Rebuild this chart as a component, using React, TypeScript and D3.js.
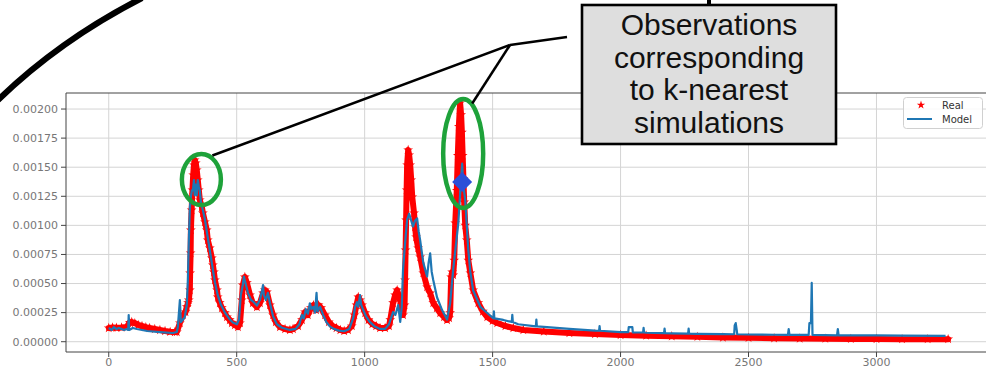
import React from 'react';
import * as d3 from 'd3';

const real: [number, number][] = [
  [0,0.000118],[15,0.000122],[30,0.000120],[50,0.000122],[70,0.000126],[82,0.000165],[90,0.000169],[102,0.000160],[115,0.000144],[130,0.000135],[145,0.000126],[160,0.000118],[180,0.000109],[200,0.000101],[220,0.000092],[240,0.000085],[258,0.000083],[266,0.000083],[278,0.000161],[290,0.000229],[300,0.000255],[305,0.000300],[310,0.000333],[313,0.000358],[317,0.000444],[318,0.000590],[320,0.000762],[321,0.000960],[324,0.001132],[327,0.001304],[330,0.001433],[333,0.001519],[336,0.001562],[340,0.001536],[344,0.001476],[348,0.001390],[352,0.001304],[356,0.001218],[364,0.001158],[368,0.001106],[376,0.001029],[383,0.000960],[387,0.000874],[395,0.000805],[403,0.000719],[407,0.000659],[411,0.000599],[415,0.000530],[423,0.000444],[426,0.000384],[434,0.000333],[442,0.000290],[454,0.000247],[462,0.000212],[473,0.000187],[481,0.000161],[493,0.000144],[505,0.000126],[513,0.000161],[520,0.000358],[524,0.000487],[532,0.000556],[540,0.000505],[552,0.000401],[563,0.000333],[579,0.000298],[591,0.000333],[603,0.000418],[610,0.000444],[618,0.000427],[630,0.000315],[642,0.000229],[653,0.000169],[669,0.000126],[689,0.000109],[708,0.000101],
  [720,0.000109],[740,0.000135],[755,0.000187],[767,0.000255],[778,0.000229],[790,0.000290],[800,0.000315],[810,0.000272],[820,0.000315],[830,0.000290],[845,0.000229],[860,0.000169],[875,0.000135],[890,0.000118],[905,0.000101],[920,0.000092],[935,0.000101],[950,0.000135],[960,0.000229],[968,0.000315],[975,0.000384],[982,0.000358],[990,0.000315],[1002,0.000247],[1015,0.000187],[1030,0.000152],[1045,0.000135],[1060,0.000118],[1080,0.000118],[1095,0.000135],[1100,0.000187],[1111,0.000333],[1119,0.000401],[1127,0.000444],[1135,0.000384],[1143,0.000315],[1150,0.000229],[1156,0.000315],[1158,0.000530],[1160,0.000788],[1162,0.001046],[1164,0.001304],[1166,0.001519],[1170,0.001648],[1174,0.001605],[1178,0.001519],[1182,0.001390],[1186,0.001244],[1193,0.001106],[1197,0.000986],[1201,0.000900],[1209,0.000805],[1217,0.000728],[1229,0.000590],[1244,0.000470],[1256,0.000418],[1268,0.000333],[1282,0.000290],[1295,0.000247],[1310,0.000212],[1322,0.000187],[1330,0.000204],[1334,0.000247],[1338,0.000556],[1342,0.000599],[1346,0.000573],[1350,0.000700],[1354,0.001020],[1360,0.001300],[1364,0.001600],[1368,0.001850],[1373,0.002052],[1377,0.001950],[1380,0.001800],[1383,0.001600],[1386,0.001400],[1389,0.001200],[1393,0.001000],[1399,0.000874],[1405,0.000700],[1413,0.000590],[1424,0.000444],[1444,0.000333],[1462,0.000260],[1479,0.000212],[1500,0.000180],[1518,0.000161],[1550,0.000135],[1581,0.000118],[1620,0.000101],[1700,0.000088],[1800,0.000075],[1900,0.000066],[2000,0.000058],[2100,0.000052],[2200,0.000047],[2300,0.000042],[2400,0.000036],[2500,0.000033],[2600,0.000030],[2700,0.000028],[2800,0.000026],[2900,0.000024],[3000,0.000023],[3100,0.000022],[3200,0.000022],[3280,0.000022]
];

const model: [number, number][] = [
  [0,0.000118],[12,0.000101],[20,0.000126],[30,0.000109],[40,0.000118],[50,0.000109],[60,0.000101],[70,0.000109],[76,0.000101],[78,0.000229],[80,0.000101],[94,0.000118],[110,0.000109],[150,0.000092],[200,0.000083],[250,0.000075],[266,0.000083],[270,0.000126],[278,0.000358],[282,0.000169],[290,0.000190],[297,0.000212],[305,0.000315],[309,0.000520],[313,0.000870],[317,0.001150],[321,0.001250],[325,0.001300],[329,0.001300],[333,0.001390],[336,0.001260],[340,0.001350],[344,0.001260],[348,0.001390],[352,0.001330],[356,0.001300],[360,0.001200],[368,0.001130],[376,0.001050],[383,0.000950],[391,0.000840],[399,0.000730],[407,0.000620],[415,0.000510],[426,0.000400],[438,0.000320],[454,0.000250],[470,0.000200],[485,0.000165],[501,0.000150],[509,0.000190],[516,0.000400],[524,0.000490],[528,0.000560],[536,0.000490],[544,0.000420],[556,0.000360],[567,0.000340],[579,0.000310],[591,0.000360],[599,0.000440],[603,0.000487],[606,0.000400],[614,0.000358],[622,0.000420],[630,0.000330],[642,0.000220],[657,0.000150],[677,0.000120],[708,0.000101],
  [730,0.000110],[745,0.000150],[755,0.000230],[762,0.000200],[770,0.000280],[778,0.000240],[786,0.000330],[792,0.000280],[800,0.000300],[806,0.000250],[812,0.000420],[816,0.000260],[826,0.000300],[838,0.000230],[850,0.000170],[865,0.000130],[880,0.000110],[900,0.000095],[920,0.000090],[940,0.000110],[955,0.000200],[963,0.000300],[970,0.000340],[975,0.000300],[982,0.000400],[986,0.000320],[995,0.000270],[1005,0.000220],[1020,0.000170],[1040,0.000130],[1060,0.000110],[1080,0.000110],[1095,0.000150],[1111,0.000255],[1120,0.000230],[1131,0.000315],[1139,0.000170],[1145,0.000300],[1150,0.000620],[1158,0.000850],[1166,0.001050],[1174,0.001100],[1182,0.001040],[1189,0.000990],[1197,0.001040],[1205,0.001060],[1211,0.000950],[1217,0.000870],[1229,0.000680],[1244,0.000560],[1250,0.000680],[1256,0.000760],[1262,0.000600],[1268,0.000530],[1283,0.000380],[1303,0.000270],[1322,0.000190],[1334,0.000330],[1346,0.000620],[1356,0.000820],[1366,0.001020],[1374,0.001300],[1381,0.001530],[1385,0.001350],[1393,0.001220],[1399,0.001000],[1405,0.000790],[1413,0.000600],[1424,0.000440],[1452,0.000300],[1479,0.000247],[1503,0.000200],[1505,0.000260],[1507,0.000200],[1542,0.000187],[1575,0.000170],[1577,0.000230],[1579,0.000170],[1600,0.000150],[1669,0.000132],[1671,0.000190],[1673,0.000132],[1700,0.000127],[1800,0.000110],[1900,0.000095],[1916,0.000094],[1918,0.000135],[1920,0.000094],[2000,0.000083],[2030,0.000082],[2032,0.000126],[2046,0.000126],[2048,0.000081],[2088,0.000079],[2090,0.000120],[2092,0.000079],[2100,0.000077],[2170,0.000074],[2172,0.000112],[2174,0.000074],[2200,0.000072],[2264,0.000070],[2266,0.000112],[2268,0.000070],[2300,0.000068],[2400,0.000065],[2444,0.000064],[2446,0.000140],[2450,0.000160],[2454,0.000100],[2456,0.000064],[2500,0.000062],[2600,0.000060],[2654,0.000059],[2657,0.000109],[2660,0.000059],[2700,0.000058],[2735,0.000058],[2738,0.000160],[2744,0.000160],[2747,0.000505],[2750,0.000058],[2800,0.000056],[2846,0.000055],[2849,0.000109],[2852,0.000055],[2900,0.000055],[3000,0.000054],[3100,0.000052],[3270,0.000050]
];

const knnPoint: [number, number] = [1381, 0.001372];
const circledPeaks: [number, number][] = [[362, 0.001394], [1385, 0.001618]];
const xTicks = [0, 500, 1000, 1500, 2000, 2500, 3000];
const yTicks = [0, 0.00025, 0.0005, 0.00075, 0.001, 0.00125, 0.0015, 0.00175, 0.002];
const legendLabels = ['Real', 'Model'];
const noteLines = ['Observations', 'corresponding', 'to k-nearest', 'simulations'];

const W = 986, H = 371;
const L = 66, T = 93, R = 986, B = 352;

export default function App() {
  const x = d3.scaleLinear().domain([-167, 3428]).range([L, R]);
  const y = d3.scaleLinear().domain([-0.0000885, 0.0021379]).range([B, T]);
  const line = d3.line<[number, number]>().x(d => x(d[0])).y(d => y(d[1]));
  const starPath = d3.symbol().type(d3.symbolStar).size(30)() as string;
  const legendStar = d3.symbol().type(d3.symbolStar).size(22)() as string;
  const diamondPath = 'M0,-10L10,0L0,10L-10,0Z';
  const tickFont = 'DejaVu Sans, sans-serif';
  const gx1 = x(circledPeaks[0][0]), gy1 = y(circledPeaks[0][1]);
  const gx2 = x(circledPeaks[1][0]), gy2 = y(circledPeaks[1][1]);
  const junction = [510, 45];

  return (
    <svg width={W} height={H} style={{ position: 'absolute', left: 0, top: 0, background: '#fff' }}>
      {/* grid */}
      {yTicks.map(t => (
        <line key={'gy' + t} x1={L} x2={R} y1={y(t)} y2={y(t)} stroke="#d4d4d4" strokeWidth={1} />
      ))}
      {xTicks.map(t => (
        <line key={'gx' + t} x1={x(t)} x2={x(t)} y1={T} y2={B} stroke="#d4d4d4" strokeWidth={1} />
      ))}
      {/* frame */}
      <line x1={L} x2={R} y1={T} y2={T} stroke="#444" strokeWidth={1} />
      <line x1={L} x2={R} y1={B} y2={B} stroke="#444" strokeWidth={1} />
      <line x1={L} x2={L} y1={T} y2={B} stroke="#444" strokeWidth={1} />
      {/* y ticks */}
      {yTicks.map(t => (
        <g key={'yt' + t}>
          <line x1={L - 5} x2={L} y1={y(t)} y2={y(t)} stroke="#444" strokeWidth={1} />
          <text x={L - 8} y={y(t)} dy="0.35em" textAnchor="end" fontFamily={tickFont} fontSize={11} fill="#777">
            {d3.format('.5f')(t)}
          </text>
        </g>
      ))}
      {/* x ticks */}
      {xTicks.map(t => (
        <g key={'xt' + t}>
          <line x1={x(t)} x2={x(t)} y1={B} y2={B + 5} stroke="#444" strokeWidth={1} />
          <text x={x(t)} y={B + 14} textAnchor="middle" fontFamily={tickFont} fontSize={11} fill="#777">
            {t}
          </text>
        </g>
      ))}
      {/* Real series */}
      <path d={line(real) as string} fill="none" stroke="#ff0000" strokeWidth={6} strokeLinejoin="round" strokeLinecap="round" />
      {real.map((d, i) => (
        <path key={'r' + i} d={starPath} transform={`translate(${x(d[0])},${y(d[1])})`} fill="#ff0000" />
      ))}
      {/* Model series */}
      <path d={line(model) as string} fill="none" stroke="#1f77b4" strokeWidth={2.2} strokeLinejoin="round" />
      {/* knn diamond */}
      <path d={diamondPath} transform={`translate(${x(knnPoint[0])},${y(knnPoint[1])})`} fill="#2c4fd8" />
      {/* ellipses */}
      <ellipse cx={gx1} cy={gy1} rx={19.5} ry={25.5} fill="none" stroke="#1ea23a" strokeWidth={4.5} />
      <ellipse cx={gx2} cy={gy2} rx={20} ry={54.5} fill="none" stroke="#1ea23a" strokeWidth={4.5} />
      {/* annotation lines */}
      <line x1={junction[0]} y1={junction[1]} x2={gx1 + 11} y2={gy1 - 24} stroke="#000" strokeWidth={2.5} />
      <line x1={junction[0]} y1={junction[1]} x2={gx2 + 9} y2={gy2 - 50} stroke="#000" strokeWidth={2.5} />
      <line x1={junction[0]} y1={junction[1]} x2={567} y2={37} stroke="#000" strokeWidth={2.5} />
      {/* note box */}
      <line x1={709} y1={0} x2={709} y2={5} stroke="#000" strokeWidth={4} />
      <rect x={582} y={5} width={254} height={139} fill="#dedede" stroke="#000" strokeWidth={2.6} />
      {noteLines.map((s, i) => (
        <text key={s} x={709} y={35 + i * 32.6} textAnchor="middle" fontFamily="Liberation Sans, Arial, sans-serif" fontSize={30} fill="#111">
          {s}
        </text>
      ))}
      {/* big arc */}
      <path d="M -2 100 Q 60 40 142 -2" fill="none" stroke="#000" strokeWidth={6} />
      {/* legend */}
      <rect x={903.5} y={97.5} width={79} height={31} rx={3} fill="#fff" fillOpacity={0.85} stroke="#d0d0d0" strokeWidth={1} />
      <path d={legendStar} transform="translate(921,105)" fill="#ff0000" />
      <line x1={907} x2={932} y1={119} y2={119} stroke="#1f77b4" strokeWidth={2} />
      {legendLabels.map((s, i) => (
        <text key={s} x={942} y={105 + i * 14} dy="0.35em" fontFamily={tickFont} fontSize={10} fill="#333">
          {s}
        </text>
      ))}
    </svg>
  );
}
